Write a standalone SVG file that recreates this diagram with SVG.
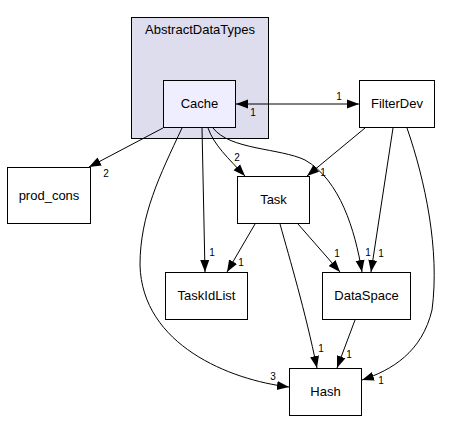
<svg xmlns="http://www.w3.org/2000/svg" width="468" height="434" viewBox="0 0 468 434">
<defs>
<marker id="ah" markerUnits="userSpaceOnUse" markerWidth="14" markerHeight="11" refX="12" refY="5" orient="auto">
<path d="M0,0.5 L12,5 L0,9.5 Z" fill="#000"/>
</marker>
<marker id="ahs" markerUnits="userSpaceOnUse" markerWidth="14" markerHeight="11" refX="0" refY="5" orient="auto">
<path d="M12,0.5 L0,5 L12,9.5 Z" fill="#000"/>
</marker>
<style>
text{font-family:"Liberation Sans",Arial,sans-serif;fill:#000}
.n{font-size:13px;text-anchor:middle}
.l{font-size:10px;text-anchor:middle}
.b{fill:#fff;stroke:#000;stroke-width:1}
.e{fill:none;stroke:#000;stroke-width:1;marker-end:url(#ah)}
</style>
</defs>
<rect width="468" height="434" fill="#fff"/>
<g id="cluster_AbstractDataTypes">
<rect x="131.5" y="17.5" width="137" height="121" fill="#ddddee" stroke="#000"/>
<text class="n" x="200" y="34">AbstractDataTypes</text>
</g>
<g id="edges">
<path class="e" d="M236,104 L359,104" style="marker-start:url(#ahs)"/>
<text class="l" x="339" y="100">1</text>
<text class="l" x="253" y="116">1</text>
<path class="e" d="M163,128 L89,167"/>
<text class="l" x="106" y="177">2</text>
<path class="e" d="M208,128 C214,145 228,158 245,176"/>
<text class="l" x="237" y="161">2</text>
<path class="e" d="M202,128 L205,272"/>
<text class="l" x="212" y="256">1</text>
<path class="e" d="M182,128 C160,175 140,215 140,265 C142,345 230,380 289,387"/>
<text class="l" x="273" y="380">3</text>
<path class="e" d="M213,128 C230,150 280,148 305,160 C340,180 355,230 362,272"/>
<text class="l" x="368" y="256">1</text>
<path class="e" d="M365,128 L307,176"/>
<text class="l" x="323" y="176">1</text>
<path class="e" d="M393,128 L371,272"/>
<text class="l" x="381" y="257">1</text>
<path class="e" d="M407,128 C425,180 440,250 432,310 C422,352 392,370 362,380"/>
<text class="l" x="381" y="384">1</text>
<path class="e" d="M255,224 L227,272"/>
<text class="l" x="241" y="266">1</text>
<path class="e" d="M298,224 L340,272"/>
<text class="l" x="337" y="257">1</text>
<path class="e" d="M280,224 C290,260 305,310 317,368"/>
<text class="l" x="321" y="352">1</text>
<path class="e" d="M355,320 L337,368"/>
<text class="l" x="349" y="358">1</text>
</g>
<g id="node_Cache">
<rect x="163.5" y="80.5" width="72" height="47" fill="#eeeeff" stroke="#000"/>
<text class="n" x="199.5" y="108">Cache</text>
</g>
<g id="node_FilterDev">
<rect class="b" x="359.5" y="80.5" width="75" height="47"/>
<text class="n" x="397" y="108">FilterDev</text>
</g>
<g id="node_prod_cons">
<rect class="b" x="7.5" y="167.5" width="83" height="56"/>
<text class="n" x="49" y="200">prod_cons</text>
</g>
<g id="node_Task">
<rect class="b" x="237.5" y="176.5" width="72" height="47"/>
<text class="n" x="273.5" y="204">Task</text>
</g>
<g id="node_TaskIdList">
<rect class="b" x="165.5" y="272.5" width="82" height="47"/>
<text class="n" x="206.5" y="300">TaskIdList</text>
</g>
<g id="node_DataSpace">
<rect class="b" x="322.5" y="272.5" width="88" height="47"/>
<text class="n" x="366.5" y="300">DataSpace</text>
</g>
<g id="node_Hash">
<rect class="b" x="289.5" y="368.5" width="72" height="47"/>
<text class="n" x="325.5" y="396">Hash</text>
</g>
</svg>
